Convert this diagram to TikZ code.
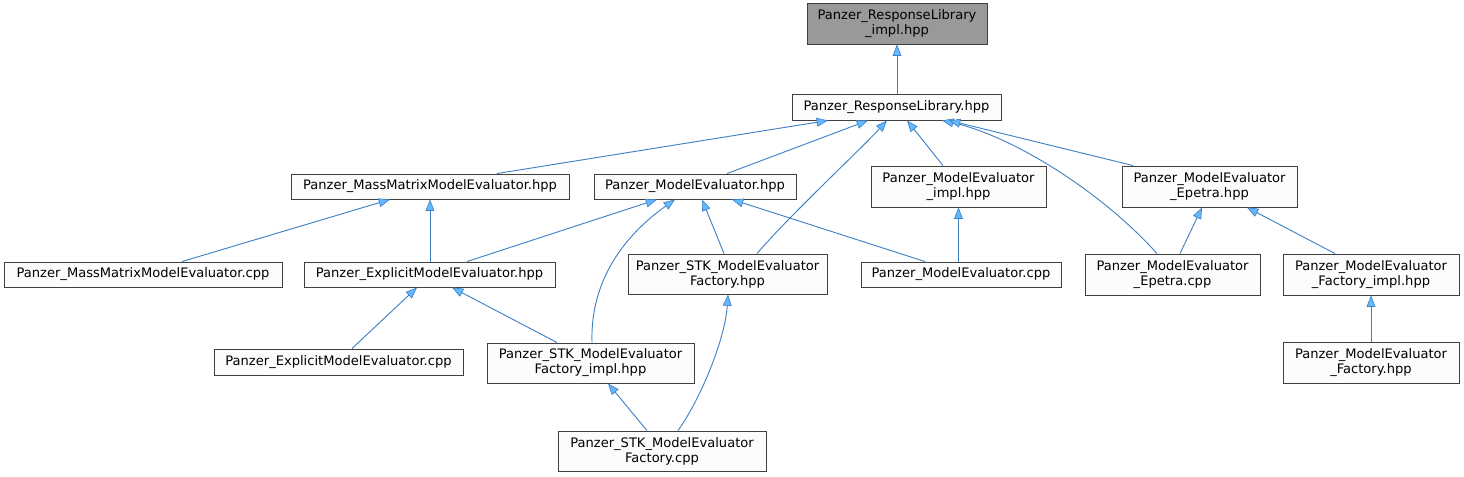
\documentclass[tikz,border=0pt]{standalone}
\usepackage{fontspec}
\setmainfont{DejaVu Sans}
\usetikzlibrary{arrows.meta,calc}
\definecolor{edgecol}{HTML}{3F82C4}
\definecolor{arrfill}{HTML}{63B8FF}
\definecolor{boxline}{HTML}{404040}
\definecolor{boxfill}{HTML}{FCFDFB}
\definecolor{topfill}{HTML}{999999}
\begin{document}
\begin{tikzpicture}[x=0.75pt,y=-0.75pt,
  box/.style 2 args={draw=boxline,fill=boxfill,line width=0.7pt,inner sep=0pt,align=center,
    minimum width=#1*0.75pt,minimum height=#2*0.75pt,
    font=\fontsize{9.8}{11.25}\selectfont},
  dep/.style={draw=edgecol,line width=0.7pt,
    -{Triangle[length=8.5pt,width=6.6pt,fill=arrfill,line width=0.5pt]}}]
\useasboundingbox (0,0) rectangle (1464,476);
% nodes
\node[box={180}{41},fill=topfill] (impl) at (897,23.5) {Panzer\_ResponseLibrary\\\_impl.hpp};
\node[box={209}{26}] (RL) at (896.5,107) {Panzer\_ResponseLibrary.hpp};
\node[box={278}{25}] (MMhpp) at (430,186.5) {Panzer\_MassMatrixModelEvaluator.hpp};
\node[box={202}{25}] (MEhpp) at (695,186.5) {Panzer\_ModelEvaluator.hpp};
\node[box={175}{41}] (MEimpl) at (958.5,186.5) {Panzer\_ModelEvaluator\\\_impl.hpp};
\node[box={175}{41}] (MEEhpp) at (1209.5,186.5) {Panzer\_ModelEvaluator\\\_Epetra.hpp};
\node[box={278}{25}] (MMcpp) at (143,274.5) {Panzer\_MassMatrixModelEvaluator.cpp};
\node[box={251}{25}] (EXhpp) at (429.5,274.5) {Panzer\_ExplicitModelEvaluator.hpp};
\node[box={199}{40}] (STKFhpp) at (727.5,274) {Panzer\_STK\_ModelEvaluator\\Factory.hpp};
\node[box={200}{25}] (MEcpp) at (961,274.5) {Panzer\_ModelEvaluator.cpp};
\node[box={175}{41}] (MEEcpp) at (1172.5,274.5) {Panzer\_ModelEvaluator\\\_Epetra.cpp};
\node[box={176}{41}] (FIhpp) at (1371,274.5) {Panzer\_ModelEvaluator\\\_Factory\_impl.hpp};
\node[box={249}{26}] (EXcpp) at (338.5,362) {Panzer\_ExplicitModelEvaluator.cpp};
\node[box={207}{40}] (STKFIhpp) at (590.5,363) {Panzer\_STK\_ModelEvaluator\\Factory\_impl.hpp};
\node[box={208}{40}] (STKFcpp) at (662,451) {Panzer\_STK\_ModelEvaluator\\Factory.cpp};
\node[box={176}{41}] (Fhpp) at (1371,362.5) {Panzer\_ModelEvaluator\\\_Factory.hpp};
% edges
\draw[dep] (impl.south |- RL.north) -- (impl.south);
\draw[dep] ($(MMhpp.north)+(67,0)$) -- ($(RL.south)+(-68.5,0)$);
\draw[dep] ($(MEhpp.north)+(32,0)$) -- ($(RL.south)+(-28.5,0)$);
\draw[dep] ($(STKFhpp.north)+(29.5,0)$) .. controls (790,215) and (860,150) .. ($(RL.south)+(-9.5,0)$);
\draw[dep] ($(MEimpl.north)+(-15.5,0)$) -- ($(RL.south)+(10.5,0)$);
\draw[dep] ($(MEEcpp.north)+(-15.5,0)$) .. controls (1100,190) and (1010,135) .. ($(RL.south)+(45.5,0)$);
\draw[dep] ($(MEEhpp.north)+(-76.5,0)$) -- ($(RL.south)+(52.5,0)$);
\draw[dep] ($(MMcpp.north)+(39,0)$) -- ($(MMhpp.south)+(-40,0)$);
\draw[dep] (MMhpp.south |- EXhpp.north) -- (MMhpp.south);
\draw[dep] ($(EXhpp.north)+(37.5,0)$) -- ($(MEhpp.south)+(-38,0)$);
\draw[dep] ($(STKFIhpp.north)+(1.5,0)$) .. controls (590,280) and (625,235) .. ($(MEhpp.south)+(-20,0)$);
\draw[dep] ($(STKFhpp.north)+(-3.5,0)$) -- ($(MEhpp.south)+(7,0)$);
\draw[dep] ($(MEcpp.north)+(-36,0)$) -- ($(MEhpp.south)+(37,0)$);
\draw[dep] (MEimpl.south |- MEcpp.north) -- (MEimpl.south);
\draw[dep] ($(MEEcpp.north)+(7.5,0)$) -- ($(MEEhpp.south)+(-7.5,0)$);
\draw[dep] ($(FIhpp.north)+(-36,0)$) -- ($(MEEhpp.south)+(37.5,0)$);
\draw[dep] ($(EXcpp.north)+(13.5,0)$) -- ($(EXhpp.south)+(-12.5,0)$);
\draw[dep] ($(STKFIhpp.north)+(-33.5,0)$) -- ($(EXhpp.south)+(22.5,0)$);
\draw[dep] ($(STKFcpp.north)+(-15,0)$) -- ($(STKFIhpp.south)+(17.5,0)$);
\draw[dep] ($(STKFcpp.north)+(16,0)$) .. controls (700,400) and (725,340) .. ($(STKFhpp.south)+(0.5,0)$);
\draw[dep] (FIhpp.south |- Fhpp.north) -- (FIhpp.south);
\end{tikzpicture}
\end{document}
